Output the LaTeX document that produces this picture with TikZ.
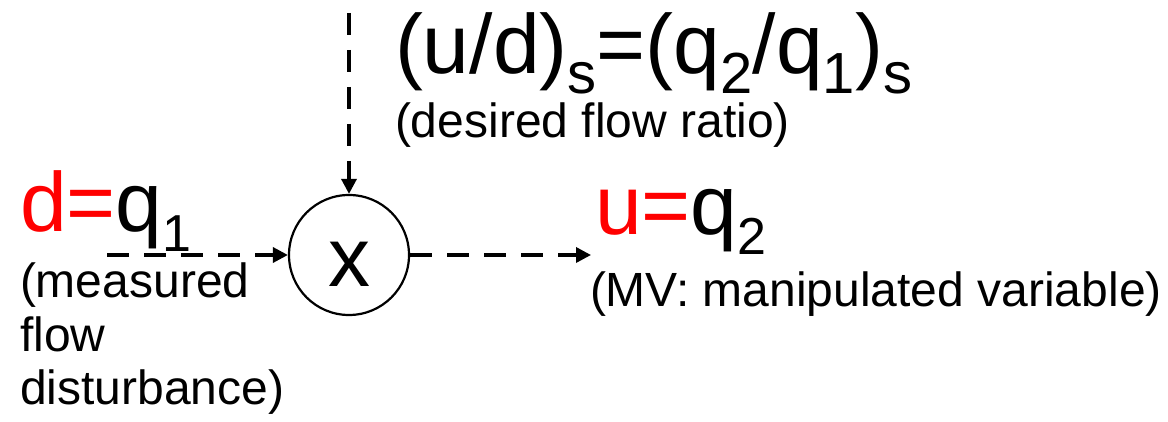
\documentclass[tikz,border=0pt]{standalone}
\usepackage{fontspec}
\setmainfont{Liberation Sans}
\usetikzlibrary{arrows.meta}
\newcommand\subx[1]{\raisebox{-0.23em}{\fontsize{26}{26}\selectfont #1}}
\newcommand\subf[1]{\raisebox{-0.23em}{\fontsize{29}{29}\selectfont #1}}
\newcommand\bigtxt{\fontsize{42}{50}\selectfont}
\newcommand\smalltxt{\fontsize{24}{27}\selectfont}
\definecolor{pptred}{RGB}{255,0,0}
\tikzset{
  lbl/.style={inner sep=0pt, outer sep=0pt, anchor=base west, font=\bigtxt},
  note/.style={inner sep=0pt, outer sep=0pt, anchor=base west, font=\smalltxt, align=left},
  sig/.style={line width=1.7pt, dash pattern=on 11pt off 7.5pt,
    -{Triangle[length=7.5pt,width=7.5pt]}},
  mult/.style={circle, draw, line width=1.1pt, minimum size=60pt, inner sep=0pt, font=\bigtxt}
}
\begin{document}
\begin{tikzpicture}[x=0.5pt,y=-0.5pt]
\useasboundingbox (0,0) rectangle (1168,422);
\node[mult] (mul) at (349,255) {};
\node[lbl, anchor=base] (xsym) at (349,287) {x};
\node[lbl] (ratio) at (395,74) {(u/d)\subf{s}=(q\subf{2}/q\subf{1})\subf{s}};
\node[note] (rationote) at (395,138) {(desired flow ratio)};
\node[lbl] (dlabel) at (20,232) {\textcolor{pptred}{d=}q\subx{1}};
\node[note] (dnote) at (20,405) {(measured\\flow\\disturbance)};
\node[lbl] (ulabel) at (595,235) {\textcolor{pptred}{u=}q\subx{2}};
\node[note] (unote) at (590,307) {(MV: manipulated variable)};
\coordinate (din) at (107,255);
\coordinate (uout) at (591,255);
\coordinate (top) at (349,13);
\draw[sig] (din) -- (mul.west);
\draw[sig] (mul.east) -- (uout);
\draw[sig] (top) -- (mul.north);
\end{tikzpicture}
\end{document}
